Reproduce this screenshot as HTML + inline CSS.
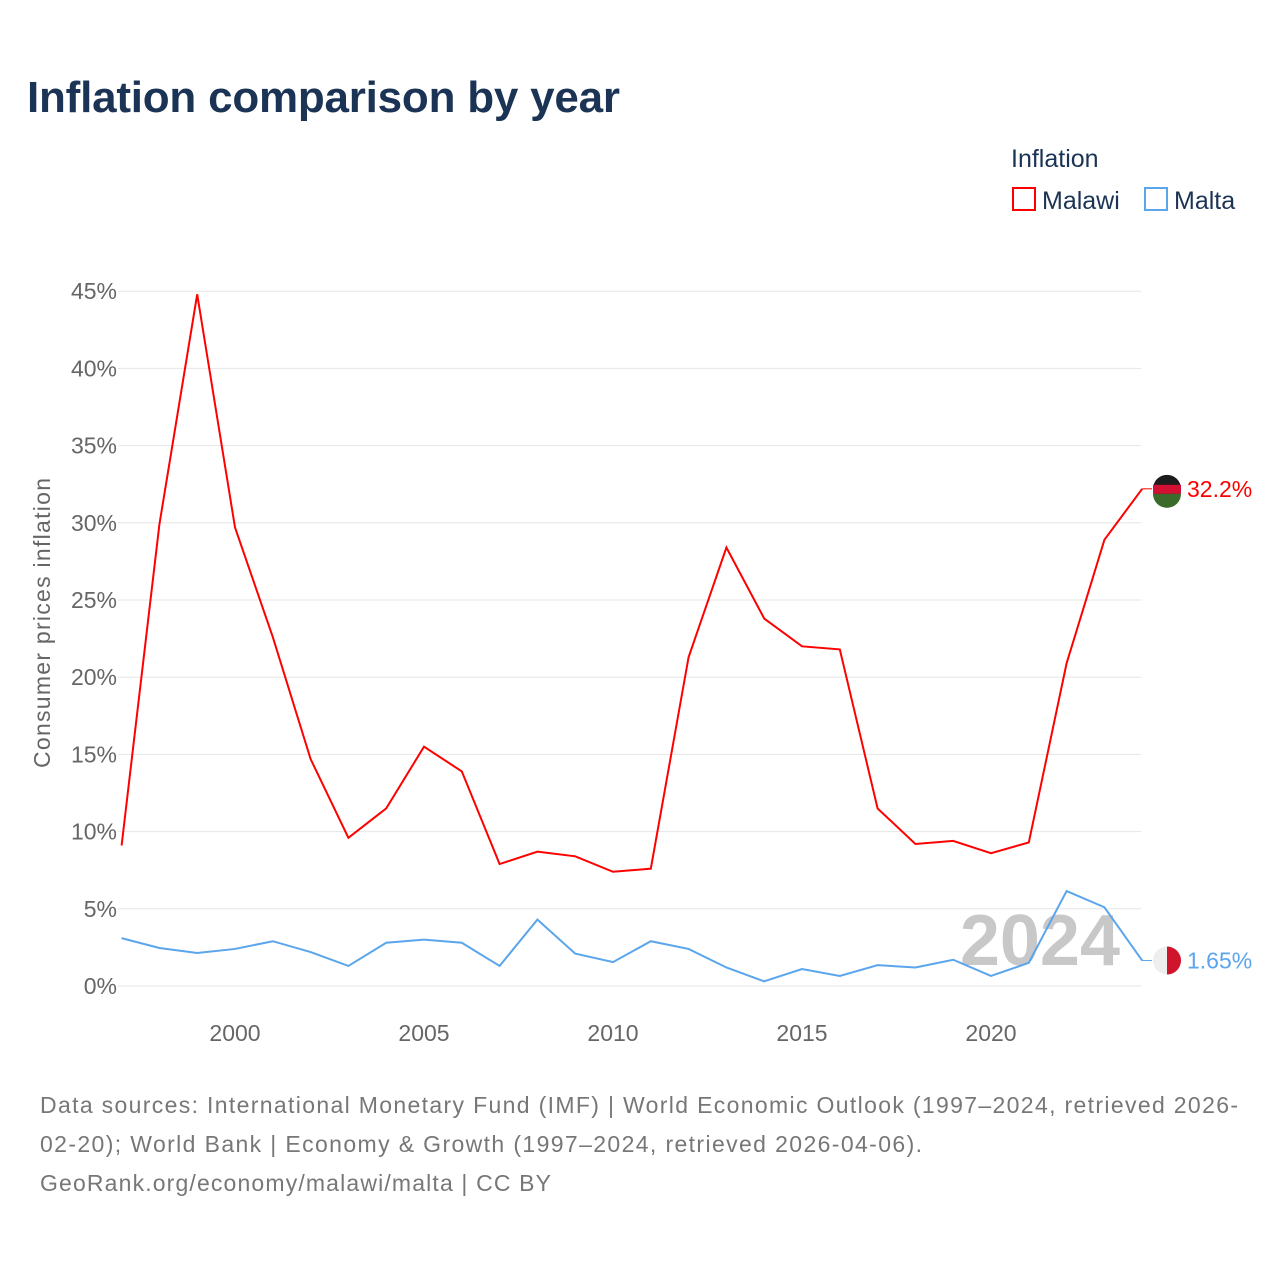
<!DOCTYPE html>
<html><head><meta charset="utf-8"><style>
body{margin:0;background:#fff;width:1280px;height:1280px;overflow:hidden;font-family:"Liberation Sans",sans-serif}
svg text{font-family:"Liberation Sans",sans-serif}
</style></head><body>
<svg id="chart" width="1280" height="1280">
<text x="27" y="112" font-size="44" font-weight="bold" fill="#1b3354" textLength="593">Inflation comparison by year</text>
<text x="1011" y="167" font-size="25" fill="#1b3354">Inflation</text>
<g><rect x="1013" y="188" width="22" height="22" fill="none" stroke="#ff0000" stroke-width="2"/><text x="1042" y="209" font-size="25" fill="#1b3354">Malawi</text></g>
<g><rect x="1145" y="188" width="22" height="22" fill="none" stroke="#5aa5ec" stroke-width="2"/><text x="1174" y="209" font-size="25" fill="#1b3354">Malta</text></g>
<text transform="translate(50,623) rotate(-90)" text-anchor="middle" font-size="23" fill="#666" textLength="290">Consumer prices inflation</text>
<text x="1120" y="965" text-anchor="end" font-size="72" font-weight="bold" fill="#c8c8c8">2024</text>
<g id="grid"></g><g id="lines"></g>
<text x="40" y="1113" font-size="23" fill="#777" textLength="1198">Data sources: International Monetary Fund (IMF) | World Economic Outlook (1997–2024, retrieved 2026-</text>
<text x="40" y="1152" font-size="23" fill="#777" textLength="882">02-20); World Bank | Economy &amp; Growth (1997–2024, retrieved 2026-04-06).</text>
<text x="40" y="1191" font-size="23" fill="#777" textLength="511">GeoRank.org/economy/malawi/malta | CC BY</text>
</svg>
<script>
const years=[1997,1998,1999,2000,2001,2002,2003,2004,2005,2006,2007,2008,2009,2010,2011,2012,2013,2014,2015,2016,2017,2018,2019,2020,2021,2022,2023,2024];
const malawi=[9.1,29.9,44.8,29.7,22.6,14.7,9.6,11.5,15.5,13.9,7.9,8.7,8.4,7.4,7.6,21.3,28.4,23.8,22.0,21.8,11.5,9.2,9.4,8.6,9.3,20.9,28.9,32.2];
const malta=[3.1,2.46,2.14,2.4,2.9,2.2,1.3,2.8,3.0,2.8,1.3,4.3,2.1,1.55,2.9,2.4,1.2,0.3,1.1,0.65,1.35,1.2,1.7,0.65,1.5,6.15,5.1,1.65];
const yTicks=[0,5,10,15,20,25,30,35,40,45];
const xTicks=[2000,2005,2010,2015,2020];
const NS="http://www.w3.org/2000/svg";
const X=y=>121.6+(y-1997)*37.8;
const Y=v=>986-v*15.44;
function mk(t,a,p){const e=document.createElementNS(NS,t);for(const k in a)e.setAttribute(k,a[k]);p.appendChild(e);return e;}
const g=document.getElementById('grid'),L=document.getElementById('lines');
yTicks.forEach(v=>{
const l=mk('line',{x1:118,x2:1141,y1:Y(v),y2:Y(v),stroke:'#e6e6e6','stroke-width':1},g);


const t=mk('text',{x:117,y:Y(v)+8,'text-anchor':'end','font-size':23,fill:'#666'},g);t.textContent=v+'%';


});
xTicks.forEach(v=>{
const t=mk('text',{x:X(v),y:1041,'text-anchor':'middle','font-size':23,fill:'#666'},g);t.textContent=v;


});
function series(vals,col,name,label){
const p=mk('polyline',{points:vals.map((v,i)=>X(years[i])+','+Y(v)).join(' '),fill:'none',stroke:col,'stroke-width':2},L);


const lv=vals[vals.length-1],lx=X(years[years.length-1]),ly=Y(lv);
mk('line',{x1:lx,y1:ly,x2:1152,y2:ly,stroke:col,'stroke-width':1},L);
const c=mk('circle',{cx:1167,cy:ly,r:14,fill:name==='malawi'?'#1c1c1c':'#eee'},L);


if(name==='malawi'){mk('rect',{x:1153,y:ly-4,width:28,height:9,fill:'#d21034'},L);mk('path',{d:`M1153,${ly+5} h28 a14,14 0 0 1 -28,0z`,fill:'#3a6b2a'},L);}
else mk('path',{d:`M1167,${ly-14} a14,14 0 0 1 0,28z`,fill:'#cf142b'},L);
const t=mk('text',{x:1187,y:ly+8,'font-size':23,fill:col},L);t.textContent=label;


}
series(malta,'#5aa5ec','malta','1.65%');
series(malawi,'#ff0000','malawi','32.2%');
</script>
</body></html>
